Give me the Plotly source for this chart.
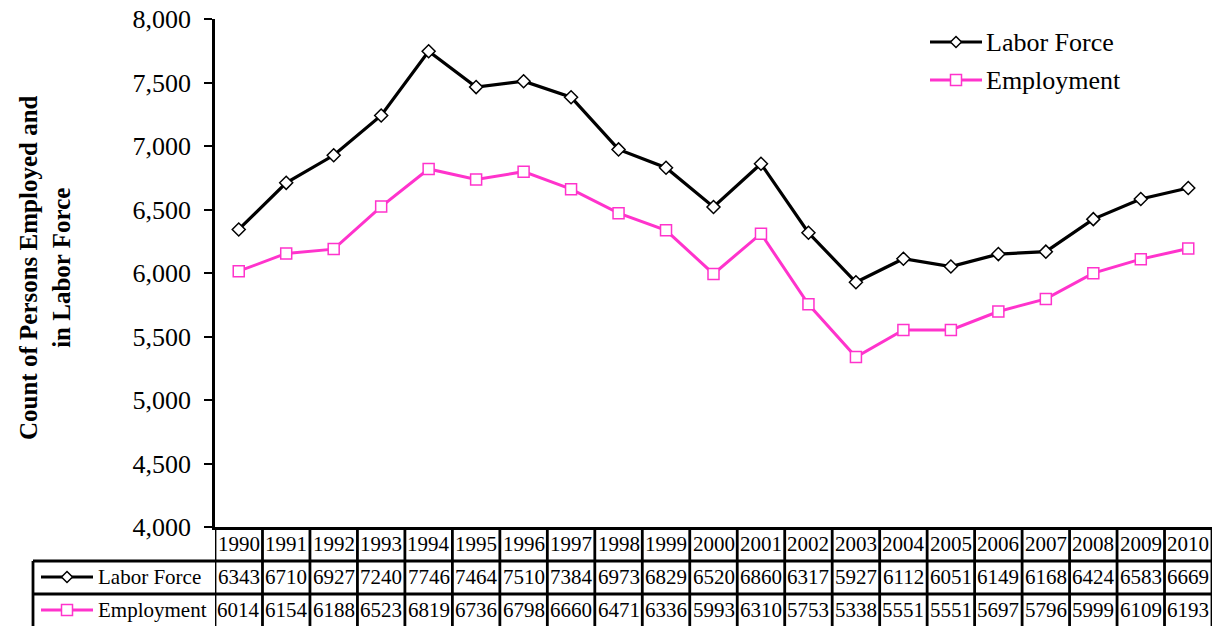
import plotly.graph_objects as go

years = [str(y) for y in range(1990, 2011)]
labor_force = [6343, 6710, 6927, 7240, 7746, 7464, 7510, 7384, 6973, 6829, 6520,
               6860, 6317, 5927, 6112, 6051, 6149, 6168, 6424, 6583, 6669]
employment = [6014, 6154, 6188, 6523, 6819, 6736, 6798, 6660, 6471, 6336, 5993,
              6310, 5753, 5338, 5551, 5551, 5697, 5796, 5999, 6109, 6193]
series_names = ["Labor Force", "Employment"]
y_title = "Count of Persons Employed and<br>in Labor Force"

W, H = 1224, 626
L, R, T, B = 215, 12, 19, 99
PW, PH = W - L - R, H - T - B
FONT = "Liberation Serif, Times New Roman, serif"
MAGENTA = "#FF33CC"


def px(X):
    return (X - L) / PW


def py(Y):
    return (H - B - Y) / PH


fig = go.Figure()
fig.add_trace(go.Scatter(
    x=years, y=labor_force, name=series_names[0], mode="lines+markers",
    line=dict(color="black", width=3.2),
    marker=dict(symbol="diamond", size=10, color="white", line=dict(color="black", width=1.5)),
    cliponaxis=False))
fig.add_trace(go.Scatter(
    x=years, y=employment, name=series_names[1], mode="lines+markers",
    line=dict(color=MAGENTA, width=3),
    marker=dict(symbol="square", size=11, color="white", line=dict(color=MAGENTA, width=1.5)),
    cliponaxis=False))

shapes = []
annotations = []
LW = 2.8

# table horizontal lines
for Y in (561, 594):
    shapes.append(dict(type="line", xref="paper", yref="paper", x0=px(33), x1=px(1212),
                       y0=py(Y), y1=py(Y), line=dict(color="black", width=LW)))
# left border of label column
shapes.append(dict(type="line", xref="paper", yref="paper", x0=px(33), x1=px(33),
                   y0=py(561), y1=py(630), line=dict(color="black", width=LW)))
# column separators
for i in range(len(years) + 1):
    shapes.append(dict(type="line", xref="x", yref="paper", x0=i - 0.5, x1=i - 0.5,
                       y0=py(527), y1=py(630), line=dict(color="black", width=LW)))

# table text (category axis annotations use the category index)
tfont = dict(family=FONT, size=21, color="black")
for i, yr in enumerate(years):
    for Y, txt in ((544, yr), (577, str(labor_force[i])), (610, str(employment[i]))):
        annotations.append(dict(x=i, y=py(Y), xref="x", yref="paper", text=txt, showarrow=False,
                                xanchor="center", yanchor="middle", font=tfont))


def icon(cx, cy, half_len, kind, text_x, text, size):
    color = "black" if kind == "diamond" else MAGENTA
    shapes.append(dict(type="line", xref="paper", yref="paper", x0=px(cx - half_len), x1=px(cx + half_len),
                       y0=py(cy), y1=py(cy), line=dict(color=color, width=3.2)))
    d = 5.5
    if kind == "diamond":
        path = (f"M {px(cx)},{py(cy - d)} L {px(cx + d)},{py(cy)} "
                f"L {px(cx)},{py(cy + d)} L {px(cx - d)},{py(cy)} Z")
        shapes.append(dict(type="path", xref="paper", yref="paper", path=path,
                           fillcolor="white", line=dict(color="black", width=1.5)))
    else:
        shapes.append(dict(type="rect", xref="paper", yref="paper", x0=px(cx - d), x1=px(cx + d),
                           y0=py(cy + d), y1=py(cy - d), fillcolor="white",
                           line=dict(color=MAGENTA, width=1.5)))
    annotations.append(dict(x=px(text_x), y=py(cy), xref="paper", yref="paper", text=text,
                            showarrow=False, xanchor="left", yanchor="middle",
                            font=dict(family=FONT, size=size, color="black")))


# table row labels
icon(67, 577, 26, "diamond", 96, series_names[0], 21)
icon(67, 610, 26, "square", 96, series_names[1], 21)
# in-plot legend
icon(956, 42, 26, "diamond", 984, series_names[0], 26)
icon(956, 80, 26, "square", 984, series_names[1], 26)

# y axis title
annotations.append(dict(x=px(45), y=py(268), xref="paper", yref="paper", text=y_title,
                        textangle=-90, showarrow=False, xanchor="center", yanchor="middle",
                        font=dict(family=FONT, size=25, color="black", weight="bold")))

fig.update_layout(
    width=W, height=H, margin=dict(l=L, r=R, t=T, b=B, autoexpand=False),
    paper_bgcolor="white", plot_bgcolor="white", showlegend=False,
    shapes=shapes, annotations=annotations,
    font=dict(family=FONT, color="black"),
    xaxis=dict(type="category", range=[-0.5, len(years) - 0.5], showticklabels=False,
               showgrid=False, zeroline=False, showline=True, linecolor="black", linewidth=3,
               ticks="", automargin=False),
    yaxis=dict(range=[4000, 8000], dtick=500, tickformat=",", showgrid=False, zeroline=False,
               showline=True, linecolor="black", linewidth=2.5, ticks="outside", ticklen=8,
               tickwidth=2, tickcolor="black", automargin=False, ticklabelstandoff=8,
               tickfont=dict(family=FONT, size=26, color="black")),
)

fig.write_html("out.html")
